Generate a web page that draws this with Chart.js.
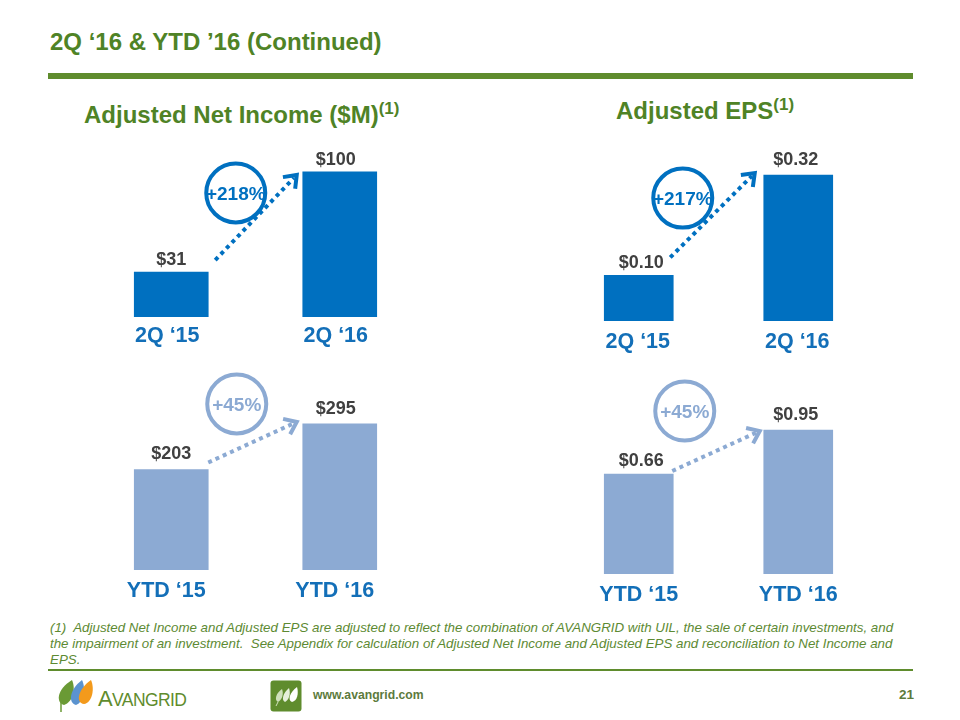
<!DOCTYPE html>
<html>
<head>
<meta charset="utf-8">
<title>2Q '16 & YTD '16</title>
<script src="https://cdn.jsdelivr.net/npm/chart.js@4/dist/chart.umd.min.js"></script>
<style>
    html, body { margin: 0; padding: 0; background: #fff; }
    #slide { position: relative; width: 960px; height: 720px; overflow: hidden; font-family: "Liberation Sans", Arial, sans-serif; }
    #slide > * { position: absolute; }
    canvas { position: absolute; }
    .title { left: 50px; top: 28px; font-size: 24px; font-weight: bold; color: #4f8326; white-space: nowrap; }
    .rule { background: #5f8c2d; }
    .head { font-size: 24px; font-weight: bold; color: #4f8326; white-space: nowrap; }
    .head sup { font-size: 17px; line-height: 0; vertical-align: 9px; }
    .note { left: 50px; top: 620px; width: 850px; font-size: 13.33px; line-height: 16px; font-style: italic; color: #5d8a33; }
    .web { left: 313px; top: 688px; font-size: 12.2px; font-weight: bold; color: #5c7a3c; }
    .page { left: 899px; top: 687px; font-size: 13.5px; font-weight: bold; color: #5c7a3c; }
    .brand { left: 98px; top: 686px; font-size: 22px; color: #5f8c2d; letter-spacing: -0.6px; white-space: nowrap; }
    .brand span { font-size: 17.5px; }
</style>
</head>
<body>
<div id="slide">
    <div class="title">2Q ‘16 &amp; YTD ’16 (Continued)</div>
    <div class="rule" style="left:48px;top:73px;width:865px;height:6px"></div>
    <div class="head" style="left:84px;top:101px">Adjusted Net Income ($M)<sup>(1)</sup></div>
    <div class="head" style="left:616px;top:97px">Adjusted EPS<sup>(1)</sup></div>

    <canvas id="incomeQuarter" style="left:87px;top:140px"></canvas>
    <canvas id="epsQuarter" style="left:559px;top:140px"></canvas>
    <canvas id="incomeYear" style="left:87px;top:365px"></canvas>
    <canvas id="epsYear" style="left:559px;top:365px"></canvas>

    <div class="note">(1)&nbsp; Adjusted Net Income and Adjusted EPS are adjusted to reflect the combination of AVANGRID with UIL, the sale of certain investments, and the impairment of an investment.&nbsp; See Appendix for calculation of Adjusted Net Income and Adjusted EPS and reconciliation to Net Income and EPS.</div>
    <div class="rule" style="left:48px;top:669px;width:865px;height:2px"></div>

    <svg style="left:55px;top:678px" width="42" height="42" viewBox="0 0 42 42">
        <path d="M6 34 L6 24" stroke="#6a9a35" stroke-width="1.5" fill="none"/>
        <path d="M17 2 C21 11 18 24 9 27 C1 25 1 12 17 2 Z" fill="#6a9a35"/>
        <path d="M27 2 C31 10 29 24 21 27 C13 25 14 12 27 2 Z" fill="#5b93cf"/>
        <path d="M36 2 C40 11 37 25 29 26 C20 25 23 11 36 2 Z" fill="#f39a1c"/>
    </svg>
    <div class="brand">A<span>VANGRID</span></div>

    <svg style="left:270px;top:680px" width="32" height="32" viewBox="0 0 32 32">
        <rect x="0.5" y="0.5" width="31" height="31" rx="3" fill="#5f8c2d"/>
        <path d="M12 9 C14 14 12 20 8 22 C4 20 6 13 12 9 Z" fill="#cfe0bb"/>
        <path d="M8 22 L6 26" stroke="#cfe0bb" stroke-width="1"/>
        <path d="M19 8 C21 14 19 20 15 22 C11 20 13 13 19 8 Z" fill="#e6efdb"/>
        <path d="M27 7 C29 14 27 21 22 22 C17 20 20 12 27 7 Z" fill="#fff"/>
    </svg>
    <div class="web">www.avangrid.com</div>
    <div class="page">21</div>
</div>

<script>
const quarterLabels = ['2Q ‘15', '2Q ‘16'];
const yearLabels = ['YTD ‘15', 'YTD ‘16'];

const incomeQuarterValues = [31, 100];
const incomeYearValues = [203, 295];
const epsQuarterValues = [0.10, 0.32];
const epsYearValues = [0.66, 0.95];

const incomeQuarterChange = '+218%';
const incomeYearChange = '+45%';
const epsQuarterChange = '+217%';
const epsYearChange = '+45%';

const darkBlue = '#0070c0';
const lightBlue = '#8caad3';
const labelBlue = '#136fb8';

// value labels above the bars, then the circle and the dotted arrow between the two bars
const calloutPlugin = {
    id: 'callout',
    afterDatasetsDraw(chart, args, opts) {
        const ctx = chart.ctx;
        const bars = chart.getDatasetMeta(0).data;
        const values = chart.data.datasets[0].data;

        ctx.save();
        ctx.font = 'bold 18px "Liberation Sans"';
        ctx.fillStyle = '#404040';
        ctx.textAlign = 'center';
        ctx.textBaseline = 'bottom';
        bars.forEach((bar, i) => {
            ctx.fillText(opts.format(values[i]), bar.x + opts.shift[i][0], bar.y - 3 + opts.shift[i][1]);
        });

        const half = bars[0].width / 2;
        const x0 = bars[0].x + half + opts.start[0];
        const y0 = bars[0].y + opts.start[1];
        const x1 = bars[1].x - half + opts.tip[0];
        const y1 = bars[1].y + opts.tip[1];
        const angle = Math.atan2(y1 - y0, x1 - x0);

        ctx.strokeStyle = opts.color;
        ctx.lineWidth = 4;
        ctx.setLineDash([4, 4]);
        ctx.beginPath();
        ctx.moveTo(x0, y0);
        ctx.lineTo(x1 - 4 * Math.cos(angle), y1 - 4 * Math.sin(angle));
        ctx.stroke();
        ctx.setLineDash([]);

        ctx.beginPath();
        ctx.moveTo(x1 - 14 * Math.cos(angle - 0.65), y1 - 14 * Math.sin(angle - 0.65));
        ctx.lineTo(x1, y1);
        ctx.lineTo(x1 - 14 * Math.cos(angle + 0.65), y1 - 14 * Math.sin(angle + 0.65));
        ctx.stroke();

        const cx = bars[1].x - half + opts.circle[0];
        const cy = bars[1].y + opts.circle[1];
        ctx.lineWidth = 4;
        ctx.beginPath();
        ctx.arc(cx, cy, 29.5, 0, Math.PI * 2);
        ctx.stroke();

        ctx.font = 'bold 19px "Liberation Sans"';
        ctx.fillStyle = opts.color;
        ctx.textBaseline = 'middle';
        ctx.fillText(opts.text, cx, cy + 2);
        ctx.restore();
    }
};

function drawBars(id, labels, values, yMax, width, height, barWidth, labelOffset, labelPadding, callout) {
    const canvas = document.getElementById(id);
    canvas.style.width = width + 'px';
    canvas.style.height = height + 'px';
    canvas.width = width;
    canvas.height = height;
    return new Chart(canvas, {
        type: 'bar',
        data: {
            labels: labels,
            datasets: [{
                data: values,
                backgroundColor: callout.color,
                barThickness: barWidth
            }]
        },
        options: {
            responsive: false,
            animation: false,
            layout: { padding: 0 },
            plugins: {
                legend: { display: false },
                tooltip: { enabled: false },
                callout: callout
            },
            scales: {
                x: {
                    grid: { display: false, drawTicks: false },
                    border: { display: false },
                    afterFit(scale) { scale.height = 38; },
                    ticks: {
                        color: labelBlue,
                        padding: labelPadding,
                        labelOffset: labelOffset,
                        maxRotation: 0,
                        font: { family: '"Liberation Sans"', size: 21.5, weight: 'bold' }
                    }
                },
                y: { display: false, min: 0, max: yMax }
            }
        },
        plugins: [calloutPlugin]
    });
}

const dollars = v => '$' + v;
const cents = v => '$' + v.toFixed(2);

drawBars('incomeQuarter', quarterLabels, incomeQuarterValues, 122, 337, 215, 74, -4, 6, {
    color: darkBlue, format: dollars, text: incomeQuarterChange,
    shift: [[0, 0], [-4, 0]], start: [7, -12], tip: [-6, 3], circle: [-67, 21]
});
drawBars('epsQuarter', quarterLabels, epsQuarterValues, 0.397, 319, 219, 69, -1, 8, {
    color: darkBlue, format: cents, text: epsQuarterChange,
    shift: [[2.5, 0], [-2.5, -3]], start: [-3, -18], tip: [-9, -2], circle: [-81, 23]
});
drawBars('incomeYear', yearLabels, incomeYearValues, 414, 337, 243, 74, -5, 8, {
    color: lightBlue, format: dollars, text: incomeYearChange,
    shift: [[0, -3], [-4, -3]], start: [0, -7], tip: [-6, -2], circle: [-66, -20]
});
drawBars('epsYear', yearLabels, epsYearValues, 1.379, 319, 247, 69, 0, 8, {
    color: lightBlue, format: cents, text: epsYearChange,
    shift: [[2.5, -1], [-2.5, -3]], start: [-1, -3], tip: [-4, 1], circle: [-79, -19]
});
</script>
</body>
</html>
